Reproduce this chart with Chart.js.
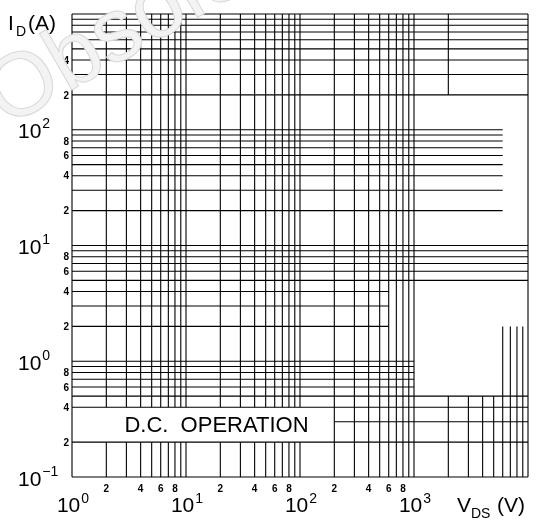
<!DOCTYPE html>
<html>
<head>
<meta charset="utf-8">
<script src="https://cdn.jsdelivr.net/npm/chart.js@4.4.1/dist/chart.umd.min.js"></script>
<style>
  body { margin: 0; background: #fff; }
</style>
</head>
<body>
<canvas id="myChart" width="536" height="521"></canvas>
<script>
// vertical grid lines: V_DS values and the I_D spans they run over
var vLineGroups = [
  [[1, 200, 300, 400, 500, 600, 700, 800, 900, 1000, 10000], [[0.1, 1000]]],
  [[2, 3, 4, 5, 6, 7, 8, 9, 10, 20, 30, 40, 50, 60, 70, 80, 90, 100], [[0.1, 0.2], [0.4, 1000]]],
  [[2000], [[0.1, 0.5], [200, 1000]]],
  [[3000, 4000, 5000], [[0.1, 0.5]]],
  [[6000, 7000, 8000, 9000], [[0.1, 2]]]
];
// horizontal grid lines: I_D values and the V_DS spans they run over
var hLineGroups = [
  [[0.1, 0.2, 0.4, 0.5, 5, 6, 7, 8, 9, 10, 200, 300, 400, 500, 600, 700, 800, 900, 1000], [[1, 10000]]],
  [[0.3], [[200, 10000]]],
  [[0.6, 0.7, 0.8, 0.9, 1], [[1, 1000]]],
  [[2, 3, 4], [[1, 600]]],
  [[20, 30, 40, 50, 60, 70, 80, 90, 100], [[1, 6000]]]
];

var vdsMajor = [1, 10, 100, 1000];
var vdsMajorExp = ['0', '1', '2', '3'];
var vdsMinor = [2, 4, 6, 8, 20, 40, 60, 80, 200, 400, 600, 800];
var vdsMinorText = ['2', '4', '6', '8', '2', '4', '6', '8', '2', '4', '6', '8'];
var idMajor = [0.1, 1, 10, 100];
var idMajorExp = ['\u22121', '0', '1', '2'];
var idMinor = [0.2, 0.4, 0.6, 0.8, 2, 4, 6, 8, 20, 40, 60, 80, 200, 400];
var idMinorText = ['2', '4', '6', '8', '2', '4', '6', '8', '2', '4', '6', '8', '2', '4'];

var FONT = '"Liberation Sans", Arial, sans-serif';

function toPoints(groups, vertical) {
  var pts = [];
  groups.forEach(function (g) {
    g[0].forEach(function (v) {
      g[1].forEach(function (span) {
        if (vertical) {
          pts.push({x: v, y: span[0]}, {x: v, y: span[1]}, {x: v, y: null});
        } else {
          pts.push({x: span[0], y: v}, {x: span[1], y: v}, {x: span[1], y: null});
        }
      });
    });
  });
  return pts;
}

var textPlugin = {
  id: 'axisText',
  afterDraw: function (chart) {
    var ctx = chart.ctx;
    var xs = chart.scales.x, ys = chart.scales.y;
    ctx.save();
    ctx.fillStyle = '#000';
    ctx.textBaseline = 'alphabetic';

    // y axis
    idMajor.forEach(function (v, i) {
      var py = ys.getPixelForValue(v);
      ctx.textAlign = 'left';
      ctx.font = '21px ' + FONT;
      ctx.fillText('10', 18, py + 8.5);
      var w = ctx.measureText('10').width;
      ctx.font = '14px ' + FONT;
      ctx.fillText(idMajorExp[i], 18 + w + 1, py - 1.5);
    });
    ctx.font = 'bold 10px ' + FONT;
    ctx.textAlign = 'right';
    idMinor.forEach(function (v, i) {
      ctx.fillText(idMinorText[i], 69, ys.getPixelForValue(v) + 3.6);
    });

    // x axis
    vdsMajor.forEach(function (v, i) {
      var px = xs.getPixelForValue(v);
      ctx.font = '21px ' + FONT;
      var w1 = ctx.measureText('10').width;
      ctx.font = '14px ' + FONT;
      var w2 = ctx.measureText(vdsMajorExp[i]).width;
      var x0 = px - (w1 + 1 + w2) / 2 + 1;
      ctx.textAlign = 'left';
      ctx.font = '21px ' + FONT;
      ctx.fillText('10', x0, 512);
      ctx.font = '14px ' + FONT;
      ctx.fillText(vdsMajorExp[i], x0 + w1 + 1, 503);
    });
    ctx.font = 'bold 10px ' + FONT;
    ctx.textAlign = 'center';
    vdsMinor.forEach(function (v, i) {
      ctx.fillText(vdsMinorText[i], xs.getPixelForValue(v), 492);
    });

    // axis titles
    ctx.textAlign = 'left';
    ctx.font = '21px ' + FONT;
    ctx.fillText('I', 8, 30);
    ctx.fillText('(A)', 28, 30);
    ctx.fillText('V', 457, 512);
    ctx.fillText('(V)', 497, 512);
    ctx.font = '14px ' + FONT;
    ctx.fillText('D', 16, 36);
    ctx.fillText('DS', 471, 518);

    // label inside the graph
    ctx.font = '22px ' + FONT;
    ctx.textAlign = 'center';
    ctx.fillText('D.C.  OPERATION', xs.getPixelForValue(18.5), ys.getPixelForValue(0.2855) + 8);

    // faint watermark across the top left
    ctx.translate(6, 128);
    ctx.rotate(-30 * Math.PI / 180);
    ctx.textAlign = 'left';
    ctx.font = '90px ' + FONT;
    ctx.fillStyle = '#f3f3f3';
    ctx.strokeStyle = '#d8d8d8';
    ctx.lineWidth = 1;
    ctx.fillText('Obsolete Product(s)', 0, 0);
    ctx.strokeText('Obsolete Product(s)', 0, 0);
    ctx.restore();
  }
};

var config = {
  type: 'scatter',
  data: {
    datasets: [{
      data: toPoints(vLineGroups, true),
      showLine: true,
      borderColor: '#000',
      borderWidth: 1.1,
      pointRadius: 0,
      clip: false
    }, {
      data: toPoints(hLineGroups, false),
      showLine: true,
      borderColor: '#000',
      borderWidth: 1.1,
      pointRadius: 0,
      clip: false
    }]
  },
  options: {
    responsive: false,
    animation: false,
    devicePixelRatio: 1,
    layout: { padding: { left: 72, top: 14, right: 8, bottom: 44 } },
    scales: {
      x: { type: 'logarithmic', min: 1, max: 10000, display: false },
      y: { type: 'logarithmic', min: 0.1, max: 1000, display: false }
    },
    plugins: {
      legend: { display: false },
      tooltip: { enabled: false }
    }
  },
  plugins: [textPlugin]
};

var ctx = document.getElementById("myChart").getContext("2d");
var myChart = new Chart(ctx, config);
</script>
</body>
</html>
